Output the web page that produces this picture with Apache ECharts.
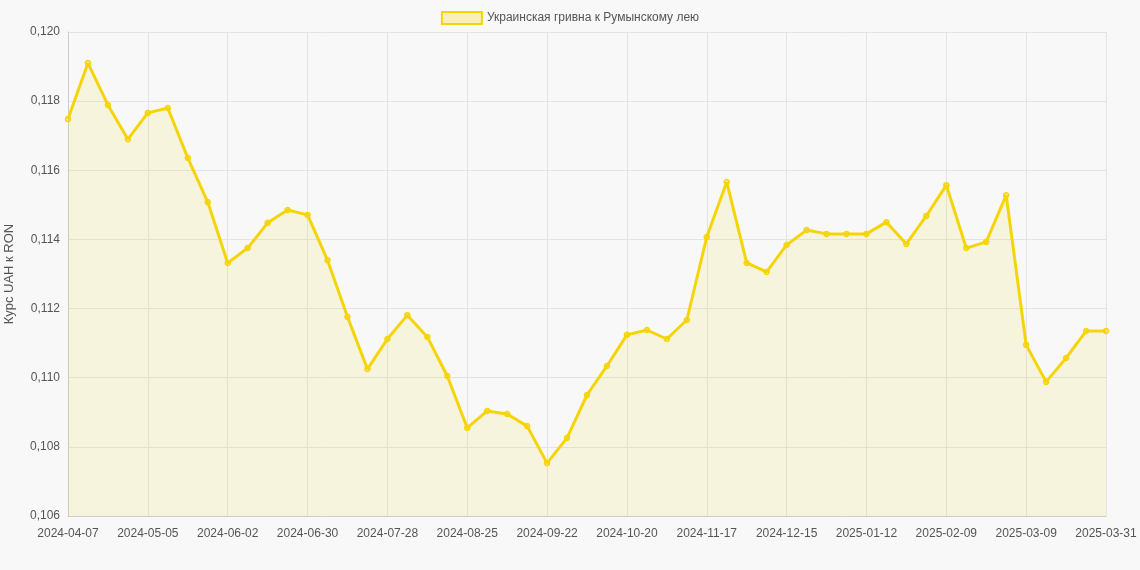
<!DOCTYPE html>
<html>
<head>
<meta charset="utf-8">
<script src="https://cdn.jsdelivr.net/npm/echarts@6/dist/echarts.min.js"></script>
<style>html,body{margin:0;background:#f8f8f8}#chart{width:1140px;height:570px}</style>
</head>
<body>
<div id="chart"></div>
<script>
// данные
var dates = ['2024-04-07','2024-04-14','2024-04-21','2024-04-28','2024-05-05','2024-05-12','2024-05-19','2024-05-26',
  '2024-06-02','2024-06-09','2024-06-16','2024-06-23','2024-06-30','2024-07-07','2024-07-14','2024-07-21',
  '2024-07-28','2024-08-04','2024-08-11','2024-08-18','2024-08-25','2024-09-01','2024-09-08','2024-09-15',
  '2024-09-22','2024-09-29','2024-10-06','2024-10-13','2024-10-20','2024-10-27','2024-11-03','2024-11-10',
  '2024-11-17','2024-11-24','2024-12-01','2024-12-08','2024-12-15','2024-12-22','2024-12-29','2025-01-05',
  '2025-01-12','2025-01-19','2025-01-26','2025-02-02','2025-02-09','2025-02-16','2025-02-23','2025-03-02',
  '2025-03-09','2025-03-16','2025-03-23','2025-03-30','2025-03-31'];
var rates = [0.11748,0.1191,0.11789,0.11690,0.11766,0.11780,0.11636,0.11508,
  0.11332,0.11375,0.11448,0.11485,0.11471,0.11340,0.11176,0.11025,
  0.11112,0.11181,0.11118,0.11005,0.10855,0.10904,0.10895,0.10860,
  0.10753,0.10826,0.10950,0.11034,0.11124,0.11138,0.11112,0.11167,
  0.11407,0.11566,0.11332,0.11306,0.11384,0.11427,0.11416,0.11416,
  0.11416,0.11450,0.11387,0.11468,0.11557,0.11375,0.11393,0.11528,
  0.11095,0.10988,0.11057,0.11135,0.11135];

function shown(i) { return (i % 4 === 0 && i <= 48) || i === 52; }

var chart = echarts.init(document.getElementById('chart'));
chart.setOption({
    backgroundColor: '#f8f8f8',
    textStyle: {fontFamily: 'Liberation Sans, Arial, sans-serif'},
    legend: {
        top: 6,
        itemWidth: 40, itemHeight: 12,
        icon: 'rect',
        textStyle: {color: '#555', fontSize: 12},
        data: ['Украинская гривна к Румынскому лею']
    },
    grid: {left: 68, right: 34, top: 32, bottom: 54, outerBoundsMode: 'none'},
    xAxis: {
        type: 'category',
        boundaryGap: false,
        data: dates,
        axisLine: {lineStyle: {color: '#ccc'}},
        axisTick: {show: false},
        axisLabel: {color: '#555', fontSize: 12, margin: 12, interval: shown},
        splitLine: {show: true, lineStyle: {color: '#e3e3e3'}, interval: shown}
    },
    yAxis: {
        type: 'value',
        min: 0.106, max: 0.120, interval: 0.002,
        name: 'Курс UAH к RON',
        nameLocation: 'middle',
        nameGap: 52,
        nameTextStyle: {color: '#555', fontSize: 13},
        axisLine: {show: true, lineStyle: {color: '#ccc'}},
        axisLabel: {color: '#555', fontSize: 12, formatter: function (v) { return v.toFixed(3).replace('.', ','); }},
        splitLine: {lineStyle: {color: '#e3e3e3'}}
    },
    series: [{
        name: 'Украинская гривна к Румынскому лею',
        type: 'line',
        data: rates,
        symbol: 'circle',
        symbolSize: 5,
        itemStyle: {color: 'rgba(245,213,10,0.25)', borderColor: '#f5d50a', borderWidth: 1.5},
        lineStyle: {color: '#f5d50a', width: 3},
        areaStyle: {color: 'rgba(245,213,10,0.15)'}
    }]
});
</script>
</body>
</html>
